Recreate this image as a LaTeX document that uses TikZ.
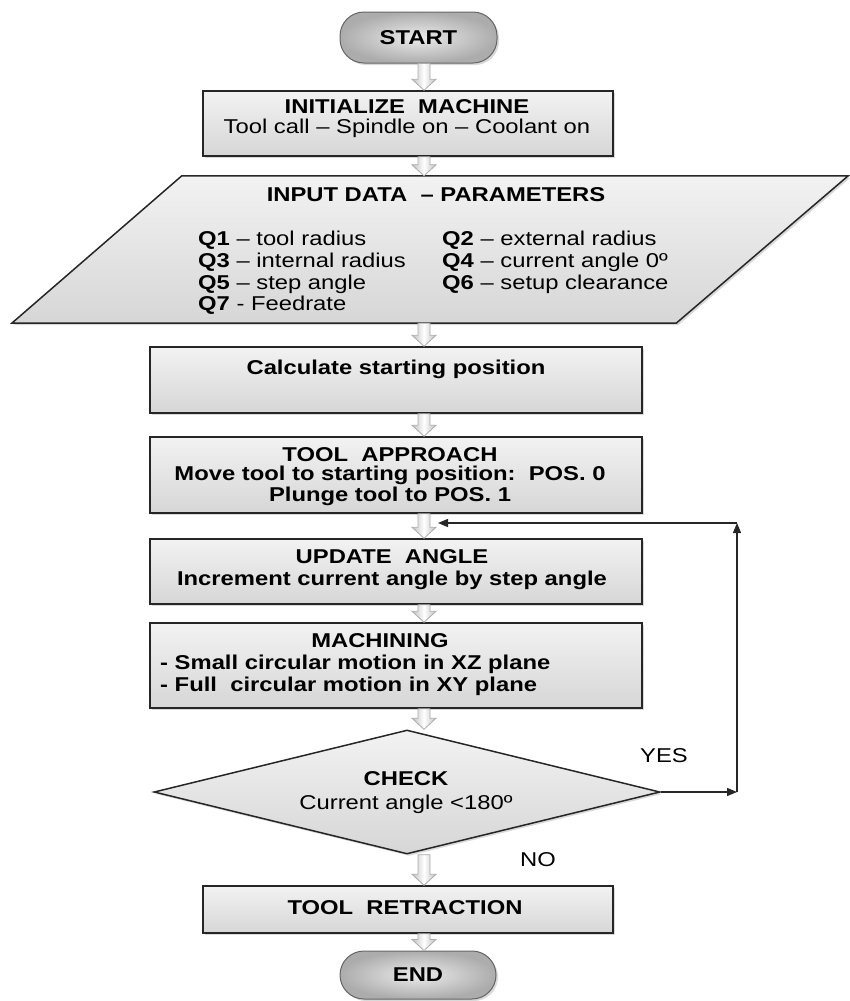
\documentclass[tikz,border=0pt]{standalone}
\usepackage{fontspec}
\setmainfont{Liberation Sans}[FakeStretch=1.19]
\usetikzlibrary{shapes.geometric,shadows,arrows.meta,calc}
\newcommand\blockarrow[2]{%
  \path[blockarr] let \p1=(#1.south -| ax), \p2=(#2.north -| ax) in
    (\x1-6pt,\y1) -- (\x1+6pt,\y1) -- (\x1+6pt,\y2+11pt) -- (\x1+12pt,\y2+11pt)
    -- (\x1,\y2) -- (\x1-12pt,\y2+11pt) -- (\x1-6pt,\y2+11pt) -- cycle;}
\begin{document}
\begin{tikzpicture}[x=1pt,y=-1pt,
  font=\fontsize{20}{23}\selectfont,
  shadowed/.style={drop shadow={opacity=0.3,shadow xshift=2pt,shadow yshift=-2pt}},
  box/.style={draw=black!85,line width=1.5pt,top color=gray!10,bottom color=gray!32,
    shadowed,inner sep=0pt},
  term/.style={draw=black!60,line width=1pt,rounded corners=24pt,inner color=gray!15,
    outer color=gray!65,shadowed,inner sep=0pt,font=\fontsize{20}{23}\selectfont\bfseries},
  blockarr/.style={draw=gray!65,line width=0.8pt,left color=gray!50,right color=gray!50,
    middle color=white},
  loopline/.style={draw=black!85,line width=1.3pt,-{Triangle[length=10pt,width=8pt]}},
  txt/.style={inner sep=0pt,anchor=base},
  txtw/.style={inner sep=0pt,anchor=base west}]
\useasboundingbox (0,0) rectangle (850,1001);
\coordinate (ax) at (424,0);

% START
\node[term,minimum width=157,minimum height=51] (start) at (418.5,37.5) {START};

% INITIALIZE
\node[box,minimum width=410,minimum height=65] (init) at (408,123.5) {};
\node[txt] (initt1) at (407,113.2) {\bfseries INITIALIZE\ \ MACHINE};
\node[txt] (initt2) at (407,133.2) {Tool call – Spindle on – Coolant on};

% INPUT parallelogram
\node[minimum width=836,minimum height=147,inner sep=0pt] (input) at (430,249.5) {};
\path[box] ($(input.north west)+(170,0)$) -- (input.north east)
  -- ($(input.south east)+(-172,0)$) -- (input.south west) -- cycle;
\node[txt] (inh) at (436,201.2) {\bfseries INPUT DATA \ – PARAMETERS};
\node[txtw] (q1) at (198,245.2) {\textbf{Q1} – tool radius};
\node[txtw] (q3) at (198,267.2) {\textbf{Q3} – internal radius};
\node[txtw] (q5) at (198,289.2) {\textbf{Q5} – step angle};
\node[txtw] (q7) at (198,310.2) {\textbf{Q7} - Feedrate};
\node[txtw] (q2) at (442,245.2) {\textbf{Q2} – external radius};
\node[txtw] (q4) at (442,267.2) {\textbf{Q4} – current angle 0º};
\node[txtw] (q6) at (442,289.2) {\textbf{Q6} – setup clearance};

% CALC
\node[box,minimum width=492,minimum height=66] (calc) at (396,380) {};
\node[txt] (calct) at (396,374.2) {\bfseries Calculate starting position};

% APPROACH
\node[box,minimum width=492,minimum height=76] (appr) at (396,475) {};
\node[txt] (apt1) at (390,461) {\bfseries TOOL\ \ APPROACH};
\node[txt] (apt2) at (390,480.3) {\bfseries Move tool to starting position:\ \ POS. 0};
\node[txt] (apt3) at (390,501.3) {\bfseries Plunge tool to POS. 1};

% UPDATE
\node[box,minimum width=492,minimum height=65] (upd) at (396,571.5) {};
\node[txt] (upt1) at (392,563.2) {\bfseries UPDATE\ \ ANGLE};
\node[txt] (upt2) at (392,585.2) {\bfseries Increment current angle by step angle};

% MACHINING
\node[box,minimum width=492,minimum height=85] (mach) at (396,665.5) {};
\node[txt] (mat1) at (380,647.2) {\bfseries MACHINING};
\node[txtw] (mat2) at (160,669.2) {\bfseries - Small circular motion in XZ plane};
\node[txtw] (mat3) at (160,691.2) {\bfseries - Full\ \ circular motion in XY plane};

% CHECK
\node[box,diamond,minimum width=506,minimum height=124,shape aspect=4.08] (check) at (407,792) {};
\node[txt] (cht1) at (406,785.2) {\bfseries CHECK};
\node[txt] (cht2) at (406,809.2) {Current angle <180º};

% RETRACTION
\node[box,minimum width=410,minimum height=47] (retr) at (408,909.5) {};
\node[txt] (rett) at (405,914.2) {\bfseries TOOL\ \ RETRACTION};

% END
\node[term,minimum width=156,minimum height=48] (end) at (418,975) {END};

% labels
\node[txt] (yes) at (664,762.2) {YES};
\node[txt] (no) at (538,866.2) {NO};

% block arrows
\blockarrow{start}{init}
\blockarrow{init}{input}
\blockarrow{input}{calc}
\blockarrow{calc}{appr}
\blockarrow{appr}{upd}
\blockarrow{upd}{mach}
\blockarrow{mach}{check}
\blockarrow{check}{retr}
\blockarrow{retr}{end}

% loop
\coordinate (lc) at (737,523);
\coordinate (lt) at (438,523);
\draw[loopline] (check.east) -- (check.east -| lc) coordinate (lb);
\draw[loopline] (lb) -- (lc);
\draw[loopline] (lc) -- (lt);
\end{tikzpicture}
\end{document}
